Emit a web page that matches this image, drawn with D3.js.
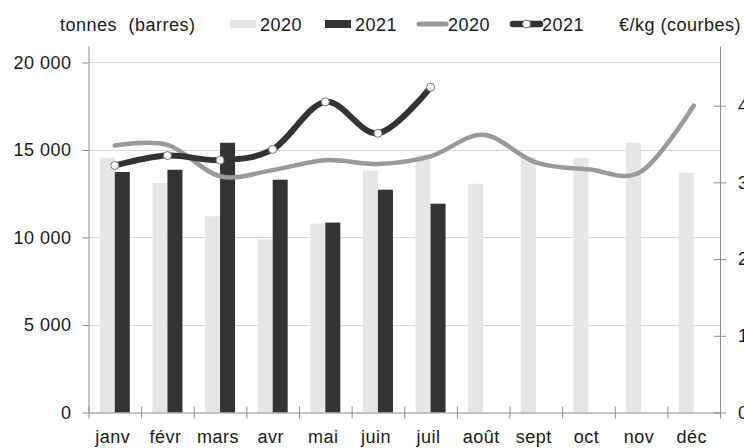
<!DOCTYPE html>
<html>
<head>
<meta charset="utf-8">
<script src="https://cdn.jsdelivr.net/npm/d3@7"></script>
<style>
  html, body { margin: 0; padding: 0; background: #fff; }
  svg { display: block; font-family: "Liberation Sans", Arial, sans-serif; letter-spacing: 0.5px; }
</style>
</head>
<body>
<svg id="chart" width="744" height="448"></svg>
<script>
// Mois
const months = ["janv", "févr", "mars", "avr", "mai", "juin", "juil", "août", "sept", "oct", "nov", "déc"];

// Volumes (tonnes) — barres
const tonnes2020 = [14540, 13110, 11210, 9880, 10790, 13830, 14730, 13070, 14600, 14540, 15410, 13700];
const tonnes2021 = [13740, 13870, 15410, 13300, 10850, 12730, 11930];

// Prix (€/kg) — courbes
const prix2020 = [3.48, 3.49, 3.08, 3.16, 3.29, 3.24, 3.34, 3.62, 3.26, 3.17, 3.14, 4.00];
const prix2021 = [3.22, 3.35, 3.29, 3.43, 4.05, 3.64, 4.24];

// Graduations
const leftTicks = [0, 5000, 10000, 15000, 20000];
const rightTicks = [0, 1, 2, 3, 4];

const svg = d3.select("#chart");
const plotLeft = 88.5, plotRight = 720, plotTop = 46, plotBottom = 412.5;

const x = d3.scaleBand().domain(months).range([plotLeft, plotRight]).padding(0);
const xs = d3.scaleBand().domain(["2020", "2021"]).range([0, 30]);
const boundary = d3.scaleLinear().domain([0, months.length]).range([plotLeft, plotRight]);
const yL = d3.scaleLinear().domain([0, 20940]).range([plotBottom, plotTop]);
const yR = d3.scaleLinear().domain([0, 4.778]).range([plotBottom, plotTop]);

const C = { light: "#e6e6e6", dark: "#333333", grey: "#999999", axis: "#8c8c8c", grid: "#d9d9d9", text: "#1a1a1a" };
const fs = 18;

// Quadrillage horizontal
svg.append("g").selectAll("line")
  .data(leftTicks.filter(d => d > 0))
  .join("line")
  .attr("x1", plotLeft).attr("x2", plotRight)
  .attr("y1", d => Math.round(yL(d)) + 0.5).attr("y2", d => Math.round(yL(d)) + 0.5)
  .attr("stroke", C.grid).attr("stroke-width", 1);

// Barres
const off = (x.bandwidth() - 30) / 2;
svg.append("g").selectAll("rect")
  .data(tonnes2020.map((v, i) => ({ m: months[i], v })))
  .join("rect")
  .attr("x", d => x(d.m) + off + xs("2020"))
  .attr("width", xs.bandwidth())
  .attr("y", d => yL(d.v))
  .attr("height", d => plotBottom - yL(d.v))
  .attr("fill", C.light);

svg.append("g").selectAll("rect")
  .data(tonnes2021.map((v, i) => ({ m: months[i], v })))
  .join("rect")
  .attr("x", d => x(d.m) + off + xs("2021"))
  .attr("width", xs.bandwidth())
  .attr("y", d => yL(d.v))
  .attr("height", d => plotBottom - yL(d.v))
  .attr("fill", C.dark);

// Axe gauche
const gL = svg.append("g").attr("transform", `translate(${plotLeft},0)`)
  .call(d3.axisLeft(yL).tickValues(leftTicks).tickSize(6).tickSizeOuter(0)
    .tickFormat(d => d3.format(",")(d).replace(",", " ")));
gL.select(".domain").attr("stroke", C.axis);
gL.selectAll(".tick line").attr("stroke", C.axis);
gL.selectAll(".tick text").attr("x", -17).attr("font-size", fs).attr("fill", C.text)
  .attr("font-family", "Liberation Sans, Arial, sans-serif");

// Axe droit
const gR = svg.append("g").attr("transform", `translate(${plotRight},0)`)
  .call(d3.axisRight(yR).tickValues(rightTicks).tickSize(6).tickSizeOuter(0).tickFormat(d3.format("d")));
gR.select(".domain").attr("stroke", C.axis);
gR.selectAll(".tick line").attr("stroke", C.axis).attr("x1", -6);
gR.selectAll(".tick text").attr("x", 18).attr("font-size", fs).attr("fill", C.text)
  .attr("font-family", "Liberation Sans, Arial, sans-serif");

// Axe des abscisses : graduations entre les mois
const gX = svg.append("g").attr("transform", `translate(0,${plotBottom})`)
  .call(d3.axisBottom(boundary).tickValues(d3.range(0, months.length + 1)).tickSize(6).tickSizeOuter(0).tickFormat(""));
gX.select(".domain").attr("stroke", C.axis);
gX.selectAll(".tick line").attr("stroke", C.axis).attr("y1", -6);

svg.append("g").selectAll("text")
  .data(months)
  .join("text")
  .attr("x", d => x(d) + x.bandwidth() / 2 - 2)
  .attr("y", 443)
  .attr("text-anchor", "middle")
  .attr("font-size", fs)
  .attr("fill", C.text)
  .text(d => d);

// Courbes de prix
const line = d3.line()
  .x((d, i) => x(months[i]) + x.bandwidth() / 2)
  .y(d => yR(d))
  .curve(d3.curveCatmullRom.alpha(0));

svg.append("path").datum(prix2020)
  .attr("d", line)
  .attr("fill", "none").attr("stroke", C.grey).attr("stroke-width", 4.5)
  .attr("stroke-linecap", "round");

svg.append("path").datum(prix2021)
  .attr("d", line)
  .attr("fill", "none").attr("stroke", C.dark).attr("stroke-width", 6)
  .attr("stroke-linecap", "round");

svg.append("g").selectAll("circle")
  .data(prix2021)
  .join("circle")
  .attr("cx", (d, i) => x(months[i]) + x.bandwidth() / 2)
  .attr("cy", d => yR(d))
  .attr("r", 4)
  .attr("fill", "#fff").attr("stroke", "#777").attr("stroke-width", 1);

// Légende et titres d'axes
const legendY = 24;
svg.append("text").attr("x", 60).attr("y", 31).attr("font-size", fs).attr("fill", C.text)
  .attr("word-spacing", 6).text("tonnes (barres)");
svg.append("text").attr("x", 619).attr("y", 31).attr("font-size", fs).attr("fill", C.text)
  .text("€/kg (courbes)");

const legendItems = [
  { label: "2020", kind: "bar", color: C.light, x: 230 },
  { label: "2021", kind: "bar", color: C.dark, x: 325 },
  { label: "2020", kind: "line", color: C.grey, x: 417 },
  { label: "2021", kind: "marker", color: C.dark, x: 511 }
];
const lg = svg.append("g").selectAll("g").data(legendItems).join("g")
  .attr("transform", d => `translate(${d.x},0)`);
lg.filter(d => d.kind === "bar").append("rect")
  .attr("x", 0).attr("y", legendY - 4).attr("width", 26).attr("height", 8).attr("fill", d => d.color);
lg.filter(d => d.kind !== "bar").append("line")
  .attr("x1", 2).attr("x2", 29).attr("y1", legendY).attr("y2", legendY)
  .attr("stroke", d => d.color).attr("stroke-width", d => d.kind === "marker" ? 6.5 : 5)
  .attr("stroke-linecap", "round");
lg.filter(d => d.kind === "marker").append("circle")
  .attr("cx", 15.5).attr("cy", legendY).attr("r", 4)
  .attr("fill", "#fff").attr("stroke", "#777").attr("stroke-width", 1);
lg.append("text")
  .attr("x", d => d.kind === "bar" ? 30 : 31)
  .attr("y", 31).attr("font-size", fs).attr("fill", C.text)
  .text(d => d.label);
</script>
</body>
</html>
